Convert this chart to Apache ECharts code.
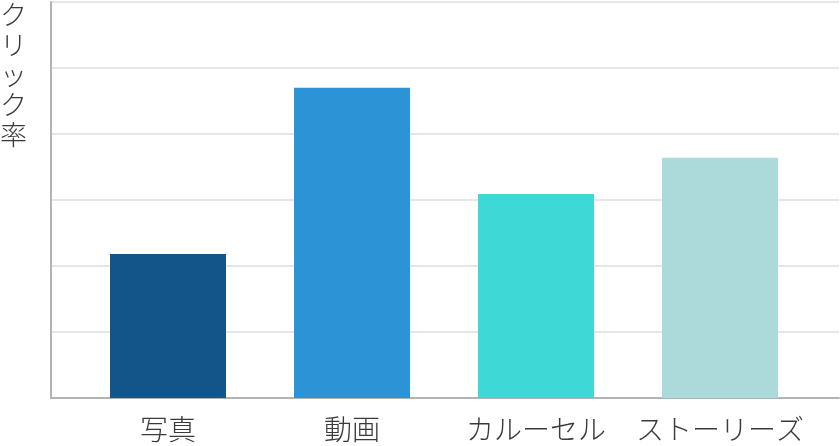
<!DOCTYPE html>
<html>
<head>
<meta charset="utf-8">
<script src="https://cdn.jsdelivr.net/npm/echarts@6/dist/echarts.min.js"></script>
<style>
html,body{margin:0;padding:0;background:#fff;}
#c{width:840px;height:446px;}
</style>
</head>
<body>
<div id="c"></div>
<script>
const categories = ['写真', '動画', 'カルーセル', 'ストーリーズ'];
const clickRate = [2.18, 4.70, 3.09, 3.64];
const barColors = ['#135588', '#2c94d6', '#3ed9d7', '#acd9d9'];
const yAxisName = 'クリック率';

const chart = echarts.init(document.getElementById('c'));
const font = '"Noto Sans CJK JP", "Noto Sans", sans-serif';
chart.setOption({
  animation: false,
  backgroundColor: '#fff',
  grid: [
    { left: 51, right: 1, top: 2, bottom: 48 },
    { left: 76, right: 28, top: 2, bottom: 48 }
  ],
  xAxis: [
    { gridIndex: 0, type: 'value', min: 0, max: 1,
      axisLine: { show: true, onZero: false, lineStyle: { color: '#b3b3b3', width: 2 } },
      axisTick: { show: false }, axisLabel: { show: false }, splitLine: { show: false } },
    { gridIndex: 1, type: 'category', data: categories,
      axisLine: { show: false }, axisTick: { show: false },
      axisLabel: { color: '#3a3a3a', fontSize: 28, fontWeight: 300, fontFamily: font, margin: 17,
                   interval: 0, hideOverlap: false } }
  ],
  yAxis: [
    { gridIndex: 0, type: 'value', min: 0, max: 6, interval: 1,
      axisLine: { show: true, lineStyle: { color: '#b3b3b3', width: 2 } },
      axisTick: { show: false }, axisLabel: { show: false },
      splitLine: { show: true, lineStyle: { color: '#e6e6e6', width: 2 } } },
    { gridIndex: 1, type: 'value', min: 0, max: 6, interval: 1,
      show: false, splitLine: { show: false } }
  ],
  graphic: [{
    type: 'text', left: 0, top: 0,
    style: {
      text: yAxisName.split('').join('\n'),
      font: '300 27px ' + font, lineHeight: 30, fill: '#3a3a3a', align: 'center'
    },
    x: 13
  }],
  series: [{
    type: 'bar', xAxisIndex: 1, yAxisIndex: 1,
    barWidth: 116,
    data: clickRate.map((v, i) => ({ value: v, itemStyle: { color: barColors[i] } }))
  }]
});
</script>
</body>
</html>
